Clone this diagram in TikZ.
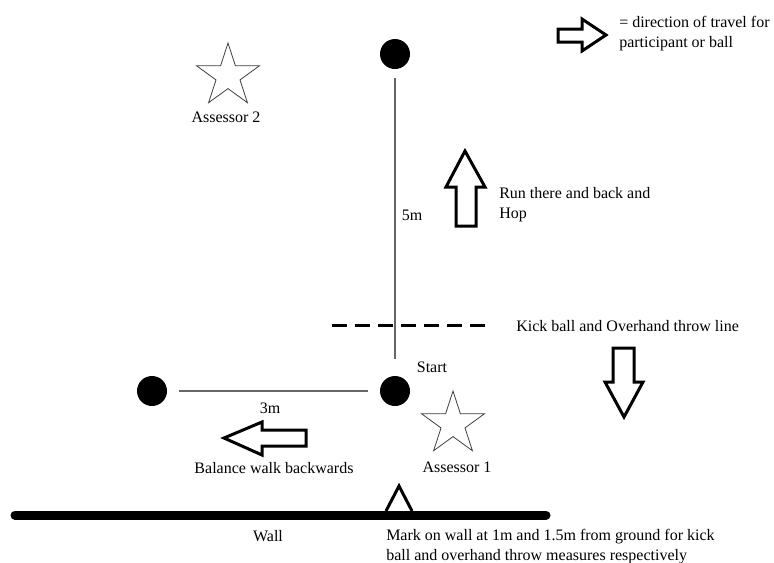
\documentclass[tikz,border=0pt]{standalone}
\usepackage{fontspec}
\setmainfont{Liberation Serif}
\usetikzlibrary{shapes.geometric}

\tikzset{
  cone/.style={circle, fill=black, inner sep=0pt, minimum size=22.5pt},
  assessor/.style={star, star points=5, star point ratio=2.618, draw=black!75, line width=0.6pt, inner sep=0pt, minimum size=49.5pt},
  txt/.style={inner sep=0pt, font=\fontsize{12}{15}\selectfont},
  guide/.style={line width=1.5pt, color=black!60},
  blockarrow/.style={line width=2.25pt, line join=miter},
}

\begin{document}
\begin{tikzpicture}[x=0.75pt, y=-0.75pt]
  \useasboundingbox [fill=white] (0,0) rectangle (774,562);

  \node [cone] (far) at (395,54) {};
  \node [cone] (start) at (395,391) {};
  \node [cone] (left) at (152,391) {};

  \draw [guide, shorten <=6.75pt, shorten >=12.75pt] (far) -- (start);
  \draw [guide, shorten <=9pt, shorten >=9pt] (left) -- (start);

  \node [txt] (five) at (412,215) {5m};
  \node [txt] (three) at (270,408) {3m};
  \node [txt] (startlbl) at (432,367) {Start};

  \draw [line width=2.25pt, dash pattern=on 11.25pt off 6pt] (332,325) -- (485,325);
  \node [txt, anchor=west] (kick) at (516,326) {Kick ball and Overhand throw line};

  \node [assessor] (ass2) at (228,76) {};
  \node [txt] (ass2lbl) at (226,117) {Assessor 2};
  \node [assessor] (ass1) at (453,424) {};
  \node [txt] (ass1lbl) at (457,467) {Assessor 1};

  \draw [blockarrow] (465,151) -- (485,187) -- (476,187) -- (476,226) -- (456,226) -- (456,187) -- (446,187) -- cycle;
  \node [txt, anchor=west, align=left] (run) at (499,205) {Run there and back and\\Hop};

  \draw [blockarrow] (624,417) -- (643,382) -- (634,382) -- (634,348) -- (613,348) -- (613,382) -- (605,382) -- cycle;

  \draw [blockarrow] (224,438) -- (262,422) -- (262,430) -- (306,430) -- (306,446) -- (262,446) -- (262,455) -- cycle;
  \node [txt] (balance) at (274,468) {Balance walk backwards};

  \draw [blockarrow] (606,35) -- (582,19) -- (582,29) -- (558,29) -- (558,42) -- (582,42) -- (582,51) -- cycle;
  \node [txt, anchor=west, align=left] (legend) at (619,34) {= direction of travel for\\participant or ball};

  \draw [line width=6.75pt, line cap=round] (15,515) -- (546,515);
  \draw [line width=2.25pt, line join=miter] (386,511) -- (399,486) -- (412,511);
  \node [txt] (wall) at (268,536) {Wall};
  \node [txt, anchor=west, align=left] (mark) at (386,547) {Mark on wall at 1m and 1.5m from ground for kick\\ball and overhand throw measures respectively};

\end{tikzpicture}
\end{document}
